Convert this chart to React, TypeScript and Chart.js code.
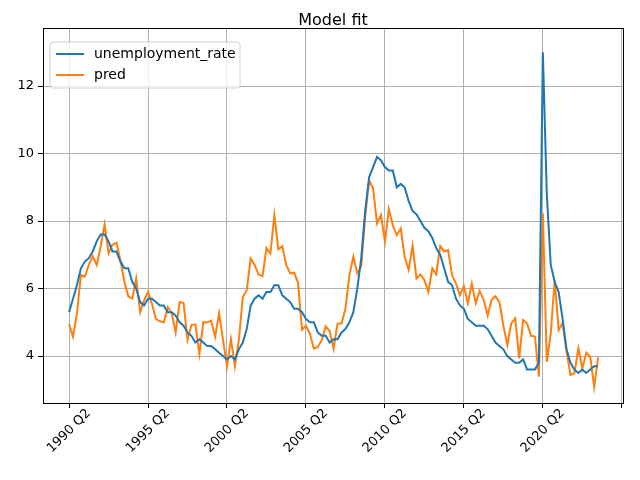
import Chart from "chart.js/auto";
import { useEffect, useRef } from "react";

const startYear = 1990;
const startQuarter = 2;

const unemploymentRate = [
  5.3, 5.7, 6.1,
  6.6, 6.8, 6.9, 7.1,
  7.4, 7.6, 7.6, 7.4,
  7.1, 7.1, 6.8, 6.6,
  6.6, 6.2, 6.0, 5.6,
  5.5, 5.7, 5.7, 5.6,
  5.5, 5.5, 5.3, 5.3,
  5.2, 5.0, 4.9, 4.7,
  4.6, 4.4, 4.5, 4.4,
  4.3, 4.3, 4.2, 4.1,
  4.0, 3.9, 4.0, 3.9,
  4.2, 4.4, 4.8, 5.5,
  5.7, 5.8, 5.7, 5.9,
  5.9, 6.1, 6.1, 5.8,
  5.7, 5.6, 5.4, 5.4,
  5.3, 5.1, 5.0, 5.0,
  4.7, 4.6, 4.6, 4.4,
  4.5, 4.5, 4.7, 4.8,
  5.0, 5.3, 6.0, 6.9,
  8.3, 9.3, 9.6, 9.9,
  9.8, 9.6, 9.5, 9.5,
  9.0, 9.1, 9.0, 8.6,
  8.3, 8.2, 8.0, 7.8,
  7.7, 7.5, 7.2, 7.0,
  6.6, 6.2, 6.1, 5.7,
  5.5, 5.4, 5.1, 5.0,
  4.9, 4.9, 4.9, 4.8,
  4.6, 4.4, 4.3, 4.2,
  4.0, 3.9, 3.8, 3.8,
  3.9, 3.6, 3.6, 3.6,
  3.8, 13.0, 8.8, 6.7,
  6.2, 5.9, 5.1, 4.2,
  3.8, 3.6, 3.5, 3.6,
  3.5, 3.6, 3.7, 3.7,
];

const pred = [
  4.95, 4.57, 5.27, 6.4, 6.35, 6.7, 6.96, 6.7, 7.24, 7.9,
  7.05, 7.3, 7.36, 6.84, 6.2, 5.77, 5.7, 6.3, 5.3, 5.65,
  5.9, 5.55, 5.1, 5.03, 5.0, 5.45, 5.27, 4.7, 5.6, 5.57,
  4.48, 4.92, 4.94, 4.06, 5.0, 5.0, 5.05, 4.57, 5.27, 4.47,
  3.7, 4.5, 3.7, 4.47, 5.75, 5.95, 6.89, 6.7, 6.42, 6.37,
  7.2, 7.04, 8.18, 7.16, 7.26, 6.7, 6.45, 6.47, 6.17, 4.78,
  4.9, 4.66, 4.22, 4.27, 4.47, 4.88, 4.74, 4.22, 4.96, 4.97,
  5.4, 6.4, 6.94, 6.45, 6.66, 8.13, 9.2, 8.97, 7.93, 8.18,
  7.39, 8.35, 7.88, 7.58, 7.78, 6.94, 6.56, 7.26, 6.3, 6.42,
  6.25, 5.9, 6.6, 6.42, 7.26, 7.1, 7.14, 6.4, 6.15, 5.8,
  6.07, 5.57, 6.15, 5.57, 5.93, 5.67, 5.2, 5.67, 5.77, 5.6,
  4.9, 4.33, 4.97, 5.12, 3.93, 5.07, 4.97, 4.6, 4.58, 3.39,
  8.23, 3.83, 4.67, 6.25, 4.77, 4.97, 4.13, 3.44, 3.49, 4.23,
  3.63, 4.1, 3.98, 3.09, 3.96,
];

const xTicks = [0, 20, 40, 60, 80, 100, 120, 140];
const yTicks = [4, 6, 8, 10, 12];

function quarterLabel(i: number) {
  const q = startQuarter - 1 + i;
  return `${startYear + Math.floor(q / 4)} Q${(q % 4) + 1}`;
}

const FONT = "DejaVu Sans";

const decor = {
  id: "decor",
  afterDraw(chart: any) {
    const { ctx, chartArea: a, scales } = chart;
    ctx.save();
    ctx.strokeStyle = "#000";
    ctx.lineWidth = 1;
    ctx.strokeRect(a.left + 0.5, a.top + 0.5, a.right - a.left, a.bottom - a.top);

    ctx.fillStyle = "#000";
    ctx.font = `16px ${FONT}`;
    ctx.textAlign = "center";
    ctx.textBaseline = "middle";
    ctx.fillText("Model fit", (a.left + a.right) / 2, a.top - 7);

    ctx.font = `13px ${FONT}`;
    xTicks.forEach((t) => {
      if (t > 130) return;
      const x = scales.x.getPixelForValue(t);
      ctx.save();
      ctx.translate(x, a.bottom + 28);
      ctx.rotate(-Math.PI / 4);
      ctx.textAlign = "center";
      ctx.textBaseline = "middle";
      ctx.fillText(quarterLabel(t), 0, 0);
      ctx.restore();
    });

    // legend
    const lx = a.left + 7, ly = a.top + 14;
    ctx.fillStyle = "rgba(255,255,255,0.8)";
    ctx.strokeStyle = "#d0d0d0";
    ctx.beginPath();
    ctx.roundRect(lx, ly, 190, 46, 3);
    ctx.fill();
    ctx.stroke();
    ctx.font = `14px ${FONT}`;
    const items: [string, string][] = [
      ["unemployment_rate", "#1f77b4"],
      ["pred", "#ff7f0e"],
    ];
    items.forEach(([label, color], i) => {
      const y = ly + 12 + i * 21;
      ctx.strokeStyle = color;
      ctx.lineWidth = 2;
      ctx.beginPath();
      ctx.moveTo(lx + 6, y);
      ctx.lineTo(lx + 34, y);
      ctx.stroke();
      ctx.fillStyle = "#000";
      ctx.textAlign = "left";
      ctx.textBaseline = "middle";
      ctx.fillText(label, lx + 44, y);
    });
    ctx.restore();
  },
};

export default function App() {
  const canvasRef = useRef<HTMLCanvasElement | null>(null);
  const chartRef = useRef<Chart | null>(null);

  useEffect(() => {
    document.body.style.margin = "0";
    if (!canvasRef.current) return;
    chartRef.current?.destroy();

    const toPoints = (arr: number[]) => arr.map((v, i) => ({ x: i, y: v }));

    chartRef.current = new Chart(canvasRef.current, {
      type: "line",
      data: {
        datasets: [
          {
            label: "unemployment_rate",
            data: toPoints(unemploymentRate),
            borderColor: "#1f77b4",
            borderWidth: 2,
            pointRadius: 0,
            tension: 0,
          },
          {
            label: "pred",
            data: toPoints(pred),
            borderColor: "#ff7f0e",
            borderWidth: 2,
            pointRadius: 0,
            tension: 0,
          },
        ],
      },
      options: {
        animation: false,
        responsive: false,
        devicePixelRatio: 1,
        layout: { padding: { top: 28, right: 17, left: 0, bottom: 0 } },
        plugins: {
          legend: { display: false },
          tooltip: { enabled: false },
          title: { display: false },
        },
        scales: {
          x: {
            type: "linear",
            min: -6.6,
            max: 140.3,
            afterBuildTicks: (s: any) => {
              s.ticks = xTicks.map((v) => ({ value: v }));
            },
            afterFit: (s: any) => {
              s.height = 77;
            },
            ticks: { display: false },
            grid: { color: "#b0b0b0", tickColor: "#000", tickLength: 5 },
            border: { display: false },
          },
          y: {
            min: 2.61,
            max: 13.72,
            afterBuildTicks: (s: any) => {
              s.ticks = yTicks.map((v) => ({ value: v }));
            },
            afterFit: (s: any) => {
              s.width = 43;
            },
            ticks: {
              color: "#000",
              font: { family: FONT, size: 13 },
              padding: 4,
            },
            grid: { color: "#b0b0b0", tickColor: "#000", tickLength: 5 },
            border: { display: false },
          },
        },
      },
      plugins: [decor],
    });

    return () => {
      chartRef.current?.destroy();
    };
  }, []);

  return <canvas ref={canvasRef} width={640} height={480} />;
}
